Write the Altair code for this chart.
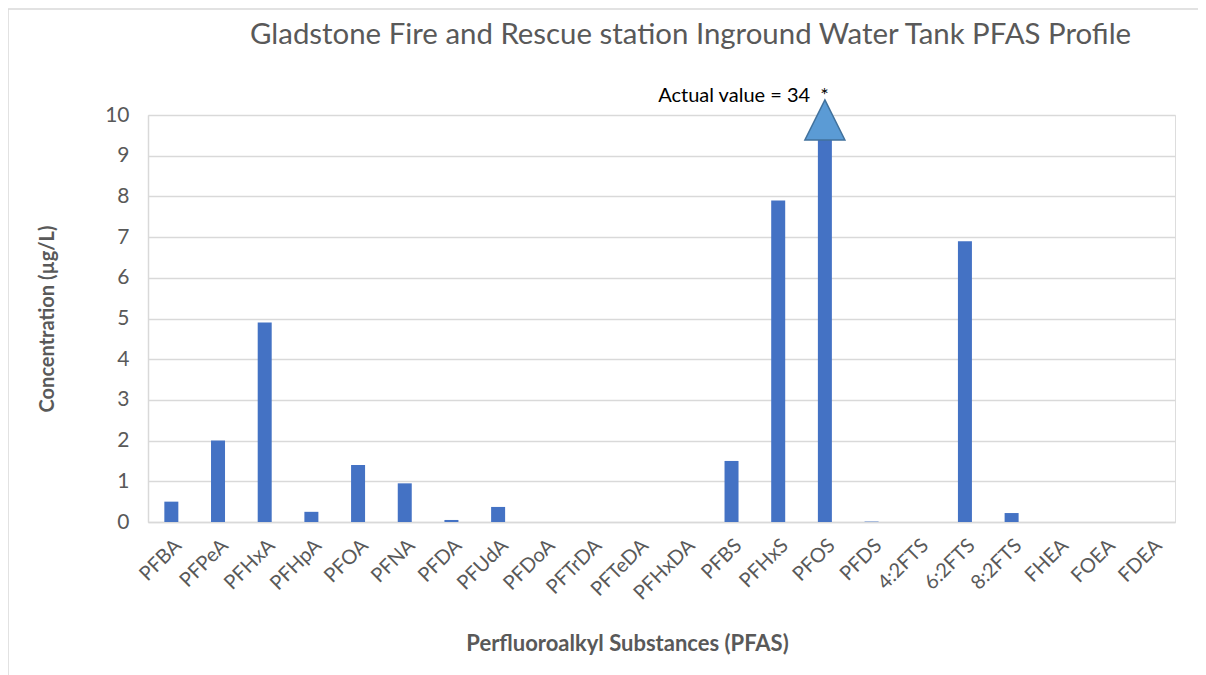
import altair as alt
import pandas as pd

categories = ["PFBA", "PFPeA", "PFHxA", "PFHpA", "PFOA", "PFNA", "PFDA", "PFUdA",
              "PFDoA", "PFTrDA", "PFTeDA", "PFHxDA", "PFBS", "PFHxS", "PFOS", "PFDS",
              "4:2FTS", "6:2FTS", "8:2FTS", "FHEA", "FOEA", "FDEA"]
values = [0.5, 2.0, 4.9, 0.25, 1.4, 0.95, 0.05, 0.37,
          0, 0, 0, 0, 1.5, 7.9, 34, 0.01,
          0, 6.9, 0.22, 0, 0, 0]

y_max = 10
arrow_y = 9.88
label_y = 10.47
note_category = "PFOS"
note_text = "Actual value = 34\u00a0\u00a0*"
title_text = "Gladstone Fire and Rescue station Inground Water Tank PFAS Profile"

df = pd.DataFrame({"cat": categories, "val": values})
note_df = pd.DataFrame({"cat": [note_category], "ay": [arrow_y], "ly": [label_y], "txt": [note_text]})

W, H = 1027, 407
FONT = "Lato"
GREY = "#595959"

x_enc = alt.X("cat:N", sort=categories,
              scale=alt.Scale(paddingInner=0, paddingOuter=0),
              axis=alt.Axis(title="Perfluoroalkyl Substances (PFAS)", labelAngle=-45,
                            labelFontSize=20, labelColor=GREY, labelFont=FONT,
                            labelPadding=13, ticks=False, domain=True, domainColor="#D9D9D9",
                            domainWidth=1.5,
                            titleFont=FONT, titleFontSize=22, titleFontWeight="bold",
                            titleColor=GREY, titlePadding=30, titleX=479))
y_scale = alt.Scale(domain=[0, y_max])

bars = alt.Chart(df).mark_bar(color="#4472C4", size=14, clip=True).encode(
    x=x_enc,
    y=alt.Y("val:Q", scale=y_scale,
            axis=alt.Axis(title="Concentration (µg/L)", values=list(range(0, 11)),
                          labelFontSize=21, labelColor=GREY, labelFont=FONT,
                          labelPadding=19, ticks=False, domain=True, domainColor="#D9D9D9",
                          domainWidth=1.5, gridColor="#D9D9D9", gridWidth=1.5,
                          titleFont=FONT, titleFontSize=20, titleFontWeight="bold",
                          titleColor=GREY, titlePadding=47)),
)

arrow = alt.Chart(note_df).mark_point(
    shape="M0,-1L1,1L-1,1Z", size=1600, filled=True, fill="#5B9BD5",
    stroke="#41719C", strokeWidth=1.5, opacity=1
).encode(
    x=alt.X("cat:N", sort=categories),
    y=alt.Y("ay:Q", scale=y_scale),
)

note = alt.Chart(note_df).mark_text(
    align="right", baseline="middle", fontSize=20, font=FONT, color="#000000", dx=4
).encode(
    x=alt.X("cat:N", sort=categories),
    y=alt.Y("ly:Q", scale=y_scale),
    text="txt:N",
)

title = alt.Chart(pd.DataFrame({"t": [title_text]})).mark_text(
    align="left", baseline="middle", fontSize=29.4, font=FONT, color=GREY
).encode(
    x=alt.value(102), y=alt.value(-80), text="t:N",
)

border = alt.Chart(pd.DataFrame({"k": [0]})).mark_rect(
    fill="transparent", stroke="#D9D9D9", strokeWidth=1.5
).encode(
    x=alt.value(-140), x2=alt.value(W + 200),
    y=alt.value(-106), y2=alt.value(H + 300),
)

chart = alt.layer(border, bars, arrow, note, title).properties(
    width=W, height=H,
    autosize=alt.AutoSizeParams(type="none"),
    padding={"left": 140, "top": 107, "right": 23, "bottom": 160},
).configure_view(
    stroke="#D9D9D9", strokeWidth=1.5
).configure(background="white")

chart.save("out.html", embed_options={"renderer": "svg", "actions": False})
